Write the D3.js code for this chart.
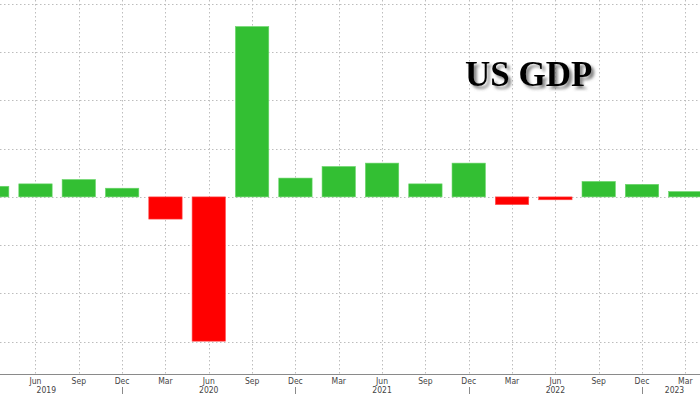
<!DOCTYPE html>
<html>
<head>
<meta charset="utf-8">
<script src="https://cdn.jsdelivr.net/npm/d3@7"></script>
<style>
  html, body { margin: 0; padding: 0; background: #fff; }
  svg { display: block; }
</style>
</head>
<body>
<svg id="chart" width="700" height="394"></svg>
<script>
'use strict';

// quarterly US real GDP growth, annualised %
const quarters = [
    'Mar 2019', 'Jun 2019', 'Sep 2019', 'Dec 2019',
    'Mar 2020', 'Jun 2020', 'Sep 2020', 'Dec 2020',
    'Mar 2021', 'Jun 2021', 'Sep 2021', 'Dec 2021',
    'Mar 2022', 'Jun 2022', 'Sep 2022', 'Dec 2022',
    'Mar 2023'
];
const gdpGrowth = [
    2.2, 2.7, 3.6, 1.8,
    -4.6, -29.9, 35.3, 3.9,
    6.3, 7.0, 2.7, 7.0,
    -1.6, -0.6, 3.2, 2.6,
    1.1
];
const yTicks = [-30, -20, -10, 0, 10, 20, 30, 40];
const years = ['2019', '2020', '2021', '2022', '2023'];

const WIDTH = 700;
const AXIS_Y = 374;
const GREEN = '#33bf33';
const RED = '#ff0000';
const GRID = '#bdbdbd';

const svg = d3.select('#chart');

// the chart is cropped: first and last bands run off the edges
const x = d3.scaleBand()
    .domain(quarters)
    .range([-29.5, 707])
    .paddingInner(0.23)
    .paddingOuter(0.115);

const y = d3.scaleLinear()
    .domain([-36.7, 40.8])
    .range([AXIS_Y, 0]);

const mid = q => x(q) + x.bandwidth() / 2;

// horizontal grid
svg.append('g')
    .selectAll('line')
    .data(yTicks)
    .enter().append('line')
    .attr('x1', 0)
    .attr('x2', WIDTH)
    .attr('y1', d => Math.round(y(d)) + 0.5)
    .attr('y2', d => Math.round(y(d)) + 0.5)
    .attr('stroke', GRID)
    .attr('stroke-width', 1)
    .attr('stroke-dasharray', '1.5,2.5');

// vertical grid at each quarter
svg.append('g')
    .selectAll('line')
    .data(quarters)
    .enter().append('line')
    .attr('x1', d => Math.round(mid(d)) + 0.5)
    .attr('x2', d => Math.round(mid(d)) + 0.5)
    .attr('y1', 0)
    .attr('y2', AXIS_Y)
    .attr('stroke', GRID)
    .attr('stroke-width', 1)
    .attr('stroke-dasharray', '1.5,2.5');

// bars
svg.append('g')
    .selectAll('rect')
    .data(quarters)
    .enter().append('rect')
    .attr('x', d => x(d))
    .attr('width', x.bandwidth())
    .attr('y', (d, i) => y(Math.max(0, gdpGrowth[i])))
    .attr('height', (d, i) => Math.abs(y(gdpGrowth[i]) - y(0)))
    .attr('fill', (d, i) => gdpGrowth[i] >= 0 ? GREEN : RED)
    .attr('stroke', (d, i) => gdpGrowth[i] >= 0 ? '#6bd66b' : '#ff5050')
    .attr('stroke-width', 0.6);

// x axis line
svg.append('line')
    .attr('x1', 0)
    .attr('x2', WIDTH)
    .attr('y1', AXIS_Y + 0.5)
    .attr('y2', AXIS_Y + 0.5)
    .attr('stroke', '#8a8a8a')
    .attr('stroke-width', 1);

// month labels (the first one falls off the cropped left edge)
svg.append('g')
    .selectAll('text')
    .data(quarters.filter(q => mid(q) > 10))
    .enter().append('text')
    .attr('x', d => mid(d))
    .attr('y', AXIS_Y + 10)
    .attr('text-anchor', 'middle')
    .attr('font-family', 'DejaVu Sans Condensed, DejaVu Sans, sans-serif')
    .attr('font-size', 8.5)
    .attr('fill', '#444')
    .text(d => d.split(' ')[0]);

// year separators sit under each December
const decembers = quarters.filter(q => q.startsWith('Dec'));
svg.append('g')
    .selectAll('line')
    .data(decembers)
    .enter().append('line')
    .attr('x1', d => Math.round(mid(d)) + 0.5)
    .attr('x2', d => Math.round(mid(d)) + 0.5)
    .attr('y1', AXIS_Y + 13)
    .attr('y2', 394)
    .attr('stroke', '#8a8a8a')
    .attr('stroke-width', 1);

// year labels centred on the visible span of each year
const [r0, r1] = x.range();
const yearSpan = yr => {
    const prev = 'Dec ' + (+yr - 1);
    const cur = 'Dec ' + yr;
    const a = quarters.includes(prev) ? mid(prev) : r0;
    const b = quarters.includes(cur) ? mid(cur) : r1;
    return (a + b) / 2;
};

svg.append('g')
    .selectAll('text')
    .data(years)
    .enter().append('text')
    .attr('x', d => yearSpan(d))
    .attr('y', AXIS_Y + 19)
    .attr('text-anchor', 'middle')
    .attr('font-family', 'DejaVu Sans Condensed, DejaVu Sans, sans-serif')
    .attr('font-size', 8.5)
    .attr('fill', '#444')
    .text(d => d);

// title with a soft drop shadow
const defs = svg.append('defs');
defs.append('filter')
    .attr('id', 'shadow')
    .attr('x', '-10%').attr('y', '-20%')
    .attr('width', '130%').attr('height', '150%')
    .append('feDropShadow')
    .attr('dx', 3)
    .attr('dy', 3)
    .attr('stdDeviation', 1.6)
    .attr('flood-color', '#555')
    .attr('flood-opacity', 0.7);

svg.append('text')
    .attr('x', 465)
    .attr('y', 86)
    .attr('font-family', 'Liberation Serif, Times New Roman, serif')
    .attr('font-weight', 'bold')
    .attr('font-size', 35)
    .attr('fill', '#000')
    .attr('filter', 'url(#shadow)')
    .text('US GDP');
</script>
</body>
</html>
